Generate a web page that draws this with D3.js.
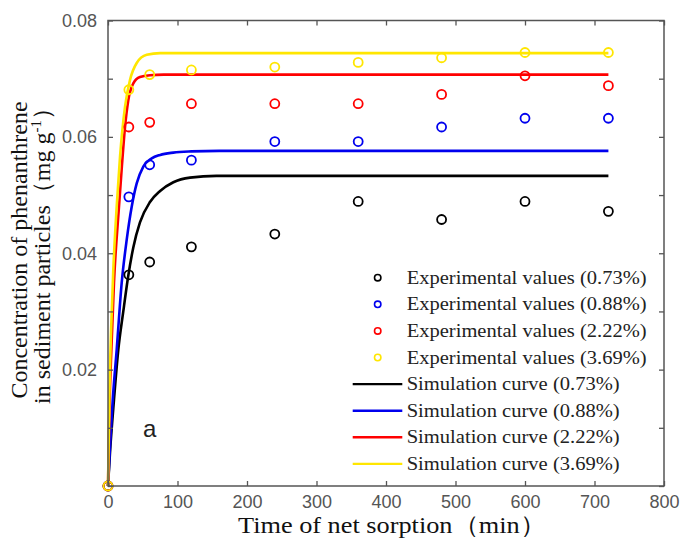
<!DOCTYPE html>
<html>
<head>
<meta charset="utf-8">
<script src="https://cdn.jsdelivr.net/npm/d3@7"></script>
<style>
  body { margin: 0; background: #fff; }
  .tick_label { font-family: "Liberation Sans", Arial, sans-serif; font-size: 18px; fill: #555; }
  .title_text { font-family: "Liberation Serif", "Times New Roman", serif; font-size: 24px; fill: #111; }
  .legend_text { font-family: "Liberation Serif", "Times New Roman", serif; font-size: 18.5px; fill: #222; }
</style>
</head>
<body>
<div id="chart"></div>
<script>
// ------- Data -------
let seriesNames = ["0.73%", "0.88%", "2.22%", "3.69%"]
let seriesColors = ["#000000", "#0000ee", "#ff0000", "#ffe600"]
let timePoints = [0, 30, 60, 120, 240, 360, 480, 600, 720]
let exp073 = [0, 0.0363, 0.0385, 0.0411, 0.0433, 0.0489, 0.0458, 0.0489, 0.0472]
let exp088 = [0, 0.0497, 0.0552, 0.0560, 0.0592, 0.0592, 0.0617, 0.0632, 0.0632]
let exp222 = [0, 0.0617, 0.0625, 0.0657, 0.0657, 0.0657, 0.0673, 0.0705, 0.0688]
let exp369 = [0, 0.0681, 0.0707, 0.0715, 0.0720, 0.0728, 0.0736, 0.0745, 0.0745]

// simulation curves, points
let sim073T = [0, 3, 8.6, 14.8, 22, 29, 36.4, 46, 60.4, 75, 94, 118, 156, 250, 720]
let sim073 = [0, 0.006, 0.0148, 0.0234, 0.030, 0.036, 0.041, 0.0453, 0.0488, 0.0507, 0.0522, 0.0530, 0.0533, 0.0533, 0.0533]
let sim088T = [0, 3, 6.8, 12.5, 19.7, 26.9, 34.1, 41.3, 50.8, 62.9, 75, 94, 120, 160, 720]
let sim088 = [0, 0.007, 0.0148, 0.0234, 0.0349, 0.0423, 0.0480, 0.0520, 0.0549, 0.0563, 0.0569, 0.0573, 0.0575, 0.0576, 0.0576]
let sim222T = [0, 2, 5, 8.6, 15.8, 20, 24.5, 29.2, 36.4, 46, 60.4, 80, 720]
let sim222 = [0, 0.013, 0.024, 0.0349, 0.0480, 0.0550, 0.0617, 0.0663, 0.0692, 0.0703, 0.0706, 0.0707, 0.0707]
let sim369T = [0, 1.9, 4.5, 7.6, 12.5, 17.3, 24.5, 31.7, 41.3, 55.7, 75, 720]
let sim369 = [0, 0.0148, 0.027, 0.0371, 0.0480, 0.0566, 0.0652, 0.0698, 0.0727, 0.0741, 0.0744, 0.0744]

let xTicks = [0, 100, 200, 300, 400, 500, 600, 700, 800]
let yTicks = [0, 0.01, 0.02, 0.03, 0.04, 0.05, 0.06, 0.07, 0.08]
let yLabels = [0.02, 0.04, 0.06, 0.08]

let expValues = [exp073, exp088, exp222, exp369]
let simTimes = [sim073T, sim088T, sim222T, sim369T]
let simValues = [sim073, sim088, sim222, sim369]

// ------- Layout -------
let width = 683
let height = 538
let margin = {left: 108, top: 20.5, right: 19, bottom: 52}
let plotW = width - margin.left - margin.right
let plotH = height - margin.top - margin.bottom

let svg = d3.select("#chart").append("svg")
    .attr("width", width)
    .attr("height", height)

let xScale = d3.scaleLinear().domain([0, 800]).range([0, plotW])
let yScale = d3.scaleLinear().domain([0, 0.08]).range([plotH, 0])

let g = svg.append("g")
    .attr("transform", `translate(${margin.left},${margin.top})`)

// ------- Curves -------
let lineGen = d3.line()
    .x(d => xScale(d[0]))
    .y(d => yScale(d[1]))
    .curve(d3.curveMonotoneX)

simValues.forEach((vals, i) => {
  let pts = vals.map((v, j) => [simTimes[i][j], v])
  g.append("path")
   .datum(pts)
   .attr("d", lineGen)
   .attr("fill", "none")
   .attr("stroke", seriesColors[i])
   .attr("stroke-width", 2.6)
})

// ------- Experimental points -------
expValues.forEach((vals, i) => {
  g.selectAll(".pt" + i)
   .data(vals.map((v, j) => [timePoints[j], v]))
   .enter()
   .append("circle")
   .attr("class", "pt" + i)
   .attr("cx", d => xScale(d[0]))
   .attr("cy", d => yScale(d[1]))
   .attr("r", 4.5)
   .attr("fill", "none")
   .attr("stroke", seriesColors[i])
   .attr("stroke-width", 1.8)
})

// ------- Axes (box with inward ticks) -------
let axisColor = "#555"
g.append("rect")
 .attr("width", plotW).attr("height", plotH)
 .attr("fill", "none").attr("stroke", axisColor).attr("stroke-width", 1.5)

let fmtY = d => yLabels.some(v => Math.abs(v - d) < 1e-9) ? d3.format(".2f")(d) : ""

let axB = g.append("g").attr("transform", `translate(0,${plotH})`)
    .call(d3.axisBottom(xScale).tickValues(xTicks).tickSize(-5).tickPadding(9))
let axT = g.append("g")
    .call(d3.axisTop(xScale).tickValues(xTicks).tickSize(-5).tickFormat(""))
let axL = g.append("g")
    .call(d3.axisLeft(yScale).tickValues(yTicks).tickSize(-5).tickPadding(11).tickFormat(fmtY))
let axR = g.append("g").attr("transform", `translate(${plotW},0)`)
    .call(d3.axisRight(yScale).tickValues(yTicks).tickSize(-5).tickFormat(""))

;[axB, axT, axL, axR].forEach(a => {
  a.select(".domain").remove()
  a.selectAll("line").attr("stroke", axisColor).attr("stroke-width", 1.3)
  a.selectAll("text").attr("class", "tick_label").attr("fill", null)
})

// ------- Axis titles -------
svg.append("text")
   .attr("class", "title_text")
   .attr("x", 392).attr("y", 533)
   .attr("text-anchor", "middle")
   .attr("font-size", "25px")
   .attr("textLength", 308).attr("lengthAdjust", "spacingAndGlyphs")
   .text("Time of net sorption（min）")

let yTitle = svg.append("g")
    .attr("transform", "translate(0,250) rotate(-90)")
yTitle.append("text")
   .attr("class", "title_text")
   .attr("x", 0).attr("y", 26.5)
   .attr("text-anchor", "middle")
   .text("Concentration of phenanthrene")
let line2 = yTitle.append("text")
   .attr("class", "title_text")
   .attr("x", 0).attr("y", 50)
   .attr("text-anchor", "middle")
line2.append("tspan").text("in sediment particles（mg g")
line2.append("tspan").attr("dy", -9).attr("font-size", "15px").text("-1")
line2.append("tspan").attr("dy", 9).text("）")

// panel letter
svg.append("text")
   .attr("x", 143).attr("y", 437)
   .attr("font-family", "Liberation Sans, Arial, sans-serif")
   .attr("font-size", "24px")
   .attr("fill", "#222")
   .text("a")

// ------- Legend -------
let legendY0 = 277.7
let legendStep = 26.6
seriesNames.forEach((name, i) => {
  let y = legendY0 + i * legendStep
  svg.append("circle")
     .attr("cx", 377.7).attr("cy", y).attr("r", 3.2)
     .attr("fill", "none").attr("stroke", seriesColors[i]).attr("stroke-width", 1.6)
  svg.append("text")
     .attr("class", "legend_text")
     .attr("x", 406.7).attr("y", y)
     .attr("dominant-baseline", "central")
     .attr("textLength", 240).attr("lengthAdjust", "spacingAndGlyphs")
     .text(`Experimental values (${name})`)
})
seriesNames.forEach((name, i) => {
  let y = legendY0 + (i + 4) * legendStep
  svg.append("line")
     .attr("x1", 352.7).attr("x2", 402.3).attr("y1", y).attr("y2", y)
     .attr("stroke", seriesColors[i]).attr("stroke-width", 2.4)
  svg.append("text")
     .attr("class", "legend_text")
     .attr("x", 406.7).attr("y", y)
     .attr("dominant-baseline", "central")
     .attr("textLength", 213).attr("lengthAdjust", "spacingAndGlyphs")
     .text(`Simulation curve (${name})`)
})
</script>
</body>
</html>
